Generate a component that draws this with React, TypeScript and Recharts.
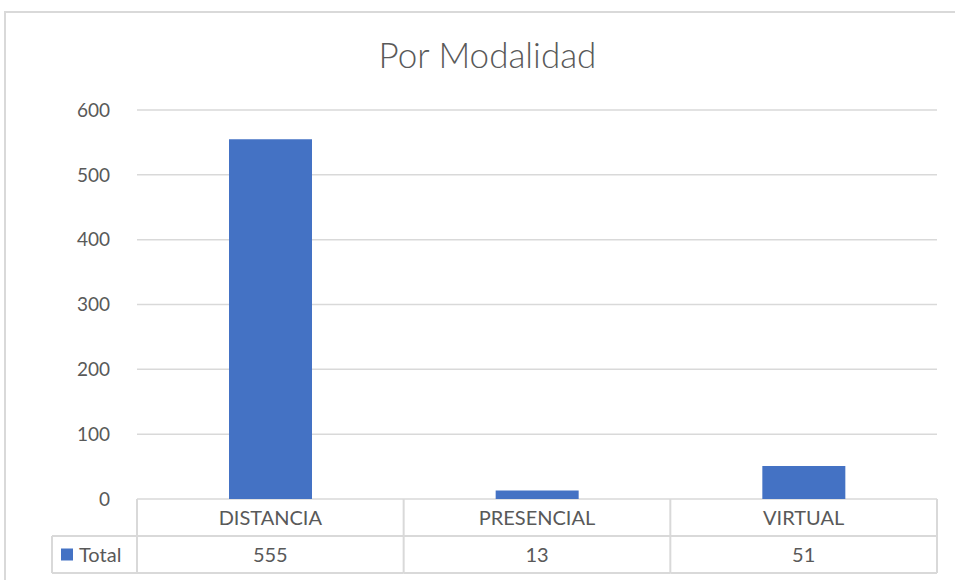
import * as React from 'react';
import { BarChart, Bar, XAxis, YAxis, CartesianGrid } from 'recharts';

const categories = ['DISTANCIA', 'PRESENCIAL', 'VIRTUAL'];
const totals = [555, 13, 51];
const yTicks = [0, 100, 200, 300, 400, 500, 600];
const seriesName = 'Total';

const data = categories.map((name, i) => ({ name, total: totals[i] }));

const W = 955;
const H = 580;
const MARGIN = { top: 110, right: 18, bottom: 7, left: 0 };
const Y_W = 137;
const PLOT_W = W - MARGIN.right - Y_W;
const ROW = 37;
const TEXT = '#595959';
const LINE = '#d9d9d9';
const BLUE = '#4472c4';
const FONT = 'Lato, "Noto Sans", sans-serif';

// eslint-disable-next-line @typescript-eslint/no-explicit-any
function TableTick(props: any) {
  const { x, y, payload, index } = props;
  const colW = PLOT_W / categories.length;
  const left = x - colW / 2;
  const right = x + colW / 2;
  const legendLeft = 52;
  return (
    <g>
      <line x1={left} y1={y} x2={left} y2={y + ROW * 2} stroke={LINE} strokeWidth={2} />
      {index === categories.length - 1 && (
        <line x1={right} y1={y} x2={right} y2={y + ROW * 2} stroke={LINE} strokeWidth={2} />
      )}
      <line x1={left} y1={y + ROW} x2={right} y2={y + ROW} stroke={LINE} strokeWidth={2} />
      <line x1={left} y1={y + ROW * 2} x2={right} y2={y + ROW * 2} stroke={LINE} strokeWidth={2} />
      <text x={x} y={y + ROW / 2} dy="0.35em" textAnchor="middle" fill={TEXT} fontSize={20} fontFamily={FONT}>
        {payload.value}
      </text>
      <text x={x} y={y + ROW * 1.5} dy="0.35em" textAnchor="middle" fill={TEXT} fontSize={20} fontFamily={FONT}>
        {totals[index]}
      </text>
      {index === 0 && (
        <g>
          <line x1={legendLeft} y1={y + ROW} x2={legendLeft} y2={y + ROW * 2} stroke={LINE} strokeWidth={2} />
          <line x1={legendLeft} y1={y + ROW} x2={left} y2={y + ROW} stroke={LINE} strokeWidth={2} />
          <line x1={legendLeft} y1={y + ROW * 2} x2={left} y2={y + ROW * 2} stroke={LINE} strokeWidth={2} />
          <rect x={61} y={y + ROW * 1.5 - 6} width={12} height={12} fill={BLUE} />
          <text x={79} y={y + ROW * 1.5} dy="0.35em" fill={TEXT} fontSize={20} fontFamily={FONT}>
            {seriesName}
          </text>
        </g>
      )}
    </g>
  );
}

export default function App() {
  return (
    <div style={{ position: 'absolute', left: 0, top: 0, width: W, height: H, background: '#fff', overflow: 'hidden' }}>
      <div
        style={{
          position: 'absolute',
          left: 4,
          top: 11,
          width: W,
          height: H,
          borderLeft: `2px solid ${LINE}`,
          borderTop: `2px solid ${LINE}`,
        }}
      />
      <div
        style={{
          position: 'absolute',
          left: 0,
          top: 33,
          width: W + 20,
          textAlign: 'center',
          fontFamily: FONT,
          fontSize: 35,
          fontWeight: 300,
          color: TEXT,
          lineHeight: '42px',
        }}
      >
        Por Modalidad
      </div>
      <div style={{ position: 'absolute', left: 0, top: 0 }}>
        <BarChart width={W} height={H} data={data} margin={MARGIN} barCategoryGap="34.5%">
          <CartesianGrid vertical={false} stroke={LINE} strokeWidth={1.5} />
          <XAxis
            dataKey="name"
            height={ROW * 2}
            axisLine={false}
            tickLine={false}
            tickSize={0}
            tickMargin={0}
            interval={0}
            tick={<TableTick />}
          />
          <YAxis
            width={Y_W}
            domain={[0, 600]}
            ticks={yTicks}
            axisLine={false}
            tickLine={false}
            tickSize={0}
            tickMargin={27}
            tick={{ fill: TEXT, fontSize: 19, fontFamily: FONT }}
          />
          <Bar dataKey="total" fill={BLUE} isAnimationActive={false} />
        </BarChart>
      </div>
    </div>
  );
}
